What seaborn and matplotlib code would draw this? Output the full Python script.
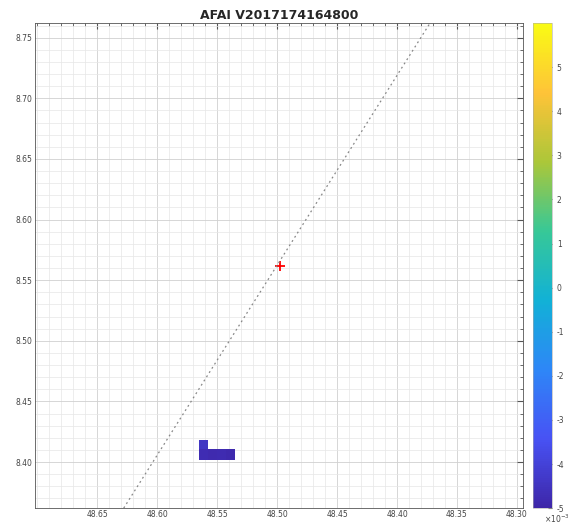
import numpy as np
import pandas as pd
import matplotlib
matplotlib.use("Agg")
import matplotlib.pyplot as plt
from matplotlib.colors import LinearSegmentedColormap
from matplotlib.ticker import MultipleLocator
import seaborn as sns

# AFAI cells (lon/lat edges, values), NaN = no data
lon_edges = [48.565, 48.5575, 48.55, 48.5425, 48.535]
lat_edges = [8.4016, 8.4106, 8.418]
afai_vals = [[-4.75e-3, -4.85e-3, -4.8e-3, -4.9e-3],
             [-4.4e-3, np.nan, np.nan, np.nan]]

# track and centre point
track_lon = [48.628, 48.3725]
track_lat = [8.362, 8.762]
centre_lon = [48.498]
centre_lat = [8.562]

xticks = [48.65, 48.60, 48.55, 48.50, 48.45, 48.40, 48.35, 48.30]
yticks = [8.40, 8.45, 8.50, 8.55, 8.60, 8.65, 8.70, 8.75]
cbar_ticks = [-5, -4, -3, -2, -1, 0, 1, 2, 3, 4, 5]

parula = LinearSegmentedColormap.from_list("parula", [
    (0.2422, 0.1504, 0.6603), (0.2810, 0.3228, 0.9579),
    (0.1786, 0.5289, 0.9682), (0.0689, 0.6948, 0.8394),
    (0.2161, 0.7843, 0.5923), (0.6720, 0.7793, 0.2227),
    (0.9970, 0.7659, 0.2199), (0.9769, 0.9839, 0.0805)])

sns.set_style("white")
plt.rcParams['font.family'] = ['DejaVu Sans']

fig = plt.figure(figsize=(5.74, 5.26), dpi=100)
ax = fig.add_axes([0.061, 0.034, 0.850, 0.922])
cax = fig.add_axes([0.9286, 0.034, 0.033, 0.922])

mesh = ax.pcolormesh(lon_edges, lat_edges, np.ma.masked_invalid(afai_vals),
                     cmap=parula, vmin=-5e-3, vmax=6e-3)

track = pd.DataFrame({'lon': track_lon, 'lat': track_lat})
sns.lineplot(data=track, x='lon', y='lat', ax=ax, color='#888888',
             linestyle=(0, (1.5, 2.5)), linewidth=0.9, sort=False)
sns.scatterplot(x=centre_lon, y=centre_lat, ax=ax, marker='+', color='red',
                s=60, linewidth=1.3)

ax.set_xlim(48.702, 48.295)
ax.set_ylim(8.362, 8.762)
ax.set_xticks(xticks)
ax.set_yticks(yticks)
ax.set_xticklabels([f"{v:.2f}" for v in xticks])
ax.set_yticklabels([f"{v:.2f}" for v in yticks])
ax.xaxis.set_minor_locator(MultipleLocator(0.01))
ax.yaxis.set_minor_locator(MultipleLocator(0.01))
ax.grid(which='major', color='#d0d0d0', linewidth=0.6)
ax.grid(which='minor', color='#e6e6e6', linewidth=0.5)
ax.set_axisbelow(True)
ax.tick_params(which='both', direction='in', top=True, right=True,
               labelsize=5.5, labelcolor='#444444', color='#555555')
ax.tick_params(which='major', length=4)
ax.tick_params(which='minor', length=2)
ax.tick_params(axis='x', pad=1.5)
ax.tick_params(axis='y', pad=2)
for s in ax.spines.values():
    s.set_color('#555555')
    s.set_linewidth(0.6)
ax.set_xlabel('')
ax.set_ylabel('')
ax.set_title('AFAI V2017174164800', fontsize=9, fontweight='bold', pad=3)

cb = fig.colorbar(mesh, cax=cax)
cb.set_ticks([t * 1e-3 for t in cbar_ticks])
cb.set_ticklabels([str(t) for t in cbar_ticks])
cb.ax.tick_params(labelsize=5.5, labelcolor='#444444', direction='in',
                  length=3, color='#555555')
cb.outline.set_linewidth(0.4)
cb.outline.set_edgecolor('#aaaaaa')
fig.text(0.992, 0.002, r'$\times10^{-3}$', fontsize=5.5, color='#444444',
         ha='right', va='bottom')

fig.savefig('out.png', dpi=100)
